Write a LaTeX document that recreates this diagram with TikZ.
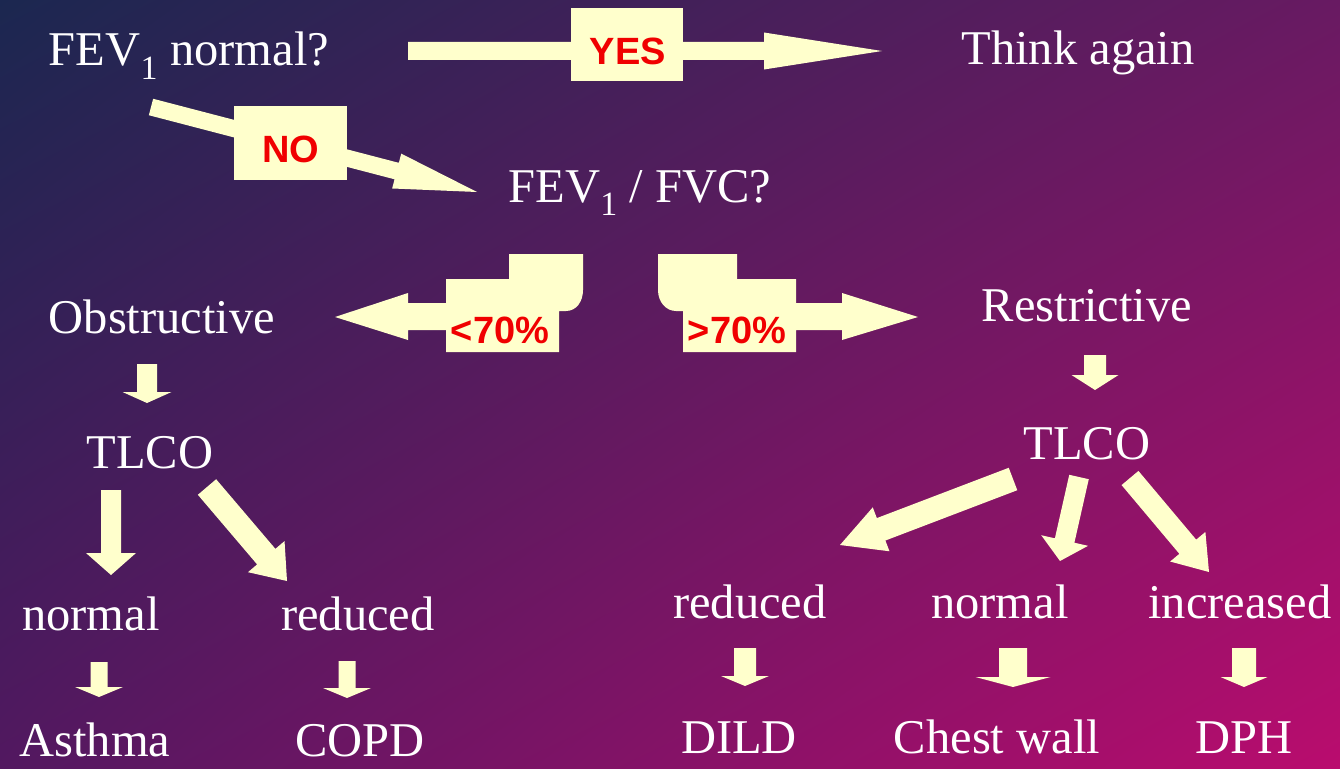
\documentclass[tikz,border=0pt]{standalone}
\usepackage{fontspec}
\setmainfont{Liberation Serif}
\newfontfamily\labfont{Liberation Sans}
\usetikzlibrary{calc,shadings}
\definecolor{bgTL}{HTML}{1B2750}
\definecolor{bgTR}{HTML}{681A62}
\definecolor{bgBL}{HTML}{521860}
\definecolor{bgBR}{HTML}{BA0C6E}
\definecolor{cream}{HTML}{FFFFCC}
\definecolor{labred}{HTML}{F00000}
% block arrow: #1 start, #2 tip, #3 half shaft, #4 half head, #5 head length
\newcommand\blockarr[5]{%
  \coordinate (ba) at ($(#2)!#5!(#1)$);
  \fill[cream] ($(#1)!#3!90:(#2)$) -- ($(#1)!#3!-90:(#2)$)
    -- ($(ba)!#3!-90:(#2)$) -- ($(ba)!#4!-90:(#2)$) -- (#2)
    -- ($(ba)!#4!90:(#2)$) -- ($(ba)!#3!90:(#2)$) -- cycle;}
\begin{document}
\begin{tikzpicture}[x=1pt,y=-1pt,
  txt/.style={text=white,font=\fontsize{48.5}{52}\selectfont,inner sep=0pt,anchor=base},
  lbl/.style={text=labred,font=\labfont\bfseries\fontsize{38}{40}\selectfont,inner sep=0pt},
  lblbox/.style={fill=cream}]
\useasboundingbox (0,0) rectangle (1340,768);
\shade[upper left=bgTL,upper right=bgTR,lower left=bgBL,lower right=bgBR] (0,0) rectangle (1340,768);

% text nodes
\node[txt] (q1) at (189,66) {FEV\textsubscript{1} normal?};
\node[txt] (think) at (1078,64) {Think again};
\node[txt] (q2) at (640,202) {FEV\textsubscript{1} / FVC?};
\node[txt] (obs) at (162,333) {Obstructive};
\node[txt] (res) at (1087,321) {Restrictive};
\node[txt] (tlcoL) at (150,468) {TLCO};
\node[txt] (tlcoR) at (1087,459) {TLCO};
\node[txt] (normL) at (91,630) {normal};
\node[txt] (redL) at (358,630) {reduced};
\node[txt] (redR) at (750,618) {reduced};
\node[txt] (normR) at (1000,618) {normal};
\node[txt] (inc) at (1240,618) {increased};
\node[txt] (asthma) at (95,756) {Asthma};
\node[txt] (copd) at (360,756) {COPD};
\node[txt] (dild) at (739,753) {DILD};
\node[txt] (chest) at (997,753) {Chest wall};
\node[txt] (dph) at (1244,753) {DPH};

% arrow end points
\coordinate (yesS) at (408,51);   \coordinate (yesT) at (882,51);
\coordinate (noS) at (151,107);   \coordinate (noT) at (477,192);
\coordinate (obsS) at (147,364);  \coordinate (obsT) at (147,403);
\coordinate (lnS) at (111,490);   \coordinate (lnT) at (111,575);
\coordinate (lrS) at (207,487);   \coordinate (lrT) at (287,581);
\coordinate (aS) at (99,662);     \coordinate (aT) at (99,697);
\coordinate (cS) at (347,661);    \coordinate (cT) at (347,698);
\coordinate (resS) at (1095,355); \coordinate (resT) at (1095,390);
\coordinate (rrS) at (1013,479);  \coordinate (rrT) at (840,545);
\coordinate (rnS) at (1079,477);  \coordinate (rnT) at (1060,561);
\coordinate (riS) at (1130,478);  \coordinate (riT) at (1209,572);
\coordinate (dS) at (745,648);    \coordinate (dT) at (745,686);
\coordinate (wS) at (1013,648);   \coordinate (wT) at (1013,687);
\coordinate (pS) at (1244,648);   \coordinate (pT) at (1244,687);

% YES arrow
\blockarr{yesS}{yesT}{9pt}{18.5pt}{118pt}
\fill[lblbox] (571,8) rectangle (683,81);
\node[lbl] (yes) at (628,51) {YES};

% NO arrow
\blockarr{noS}{noT}{8.5pt}{18pt}{83pt}
\fill[lblbox] (234,106) rectangle (347,180);
\node[lbl] (no) at (291,149) {NO};

% <70% arrow
\fill[cream] (583,254) -- (509,254) -- (509,279) -- (446,279) -- (446,303) -- (408,303)
  -- (408,293) -- (335,317) -- (408,340) -- (408,330) -- (446,330) -- (446,352)
  -- (559,352) -- (559,311) -- (566,311) .. controls (576,311) and (583,302) .. (583,290) -- cycle;
\node[lbl] (lt) at (500,330) {<70\%};

% >70% arrow
\fill[cream] (658,254) -- (737,254) -- (737,279) -- (796,279) -- (796,303) -- (842,303)
  -- (842,293) -- (918,317) -- (842,340) -- (842,330) -- (796,330) -- (796,352)
  -- (683,352) -- (683,311) -- (676,311) .. controls (666,311) and (658,302) .. (658,290) -- cycle;
\node[lbl] (gt) at (737,330) {>70\%};

% left branch
\blockarr{obsS}{obsT}{10pt}{24.5pt}{11pt}
\blockarr{lnS}{lnT}{10pt}{25pt}{22pt}
\blockarr{lrS}{lrT}{12pt}{24pt}{32pt}
\blockarr{aS}{aT}{8.5pt}{24pt}{10pt}
\blockarr{cS}{cT}{8.5pt}{24pt}{10pt}

% right branch
\blockarr{resS}{resT}{11pt}{23.5pt}{15pt}
\blockarr{rrS}{rrT}{12pt}{23.5pt}{44pt}
\blockarr{rnS}{rnT}{10pt}{24pt}{21pt}
\blockarr{riS}{riT}{11pt}{23pt}{33pt}
\blockarr{dS}{dT}{11pt}{24pt}{10pt}
\blockarr{wS}{wT}{14pt}{37.5pt}{10pt}
\blockarr{pS}{pT}{12pt}{23.5pt}{10pt}
\end{tikzpicture}
\end{document}
